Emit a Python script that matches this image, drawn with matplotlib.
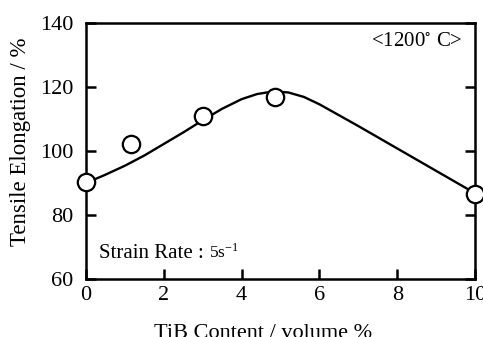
import matplotlib.pyplot as plt

plt.rcParams["font.family"] = ["Liberation Serif", "DejaVu Serif"]
plt.rcParams["mathtext.fontset"] = "stix"

# measured points
tib = [0, 1.15, 3.0, 4.85, 10]
elong = [90.2, 102.3, 111.0, 116.9, 86.6]

# hand-read trend curve
curve_x = [0, 0.5, 1, 1.5, 2, 2.5, 3, 3.5, 4, 4.4, 4.8, 5.2, 5.6, 6, 6.5, 7, 8, 9, 10]
curve_y = [90, 92.6, 95.4, 98.6, 102.2, 105.8, 109.6, 113.2, 116.2, 117.8, 118.6, 118.3, 116.9, 114.6, 111.2, 107.8, 100.8, 93.8, 86.8]

xticks = [0, 2, 4, 6, 8, 10]
yticks = [60, 80, 100, 120, 140]

fig = plt.figure(figsize=(4.83, 3.37), dpi=100)
ax = fig.add_axes([86 / 483, 1 - 279 / 337, (475 - 86) / 483, (279 - 23) / 337])

ax.plot(curve_x, curve_y, color="black", lw=1.7, zorder=2)
ax.plot(tib, elong, linestyle="none", marker="o", ms=12.5, mfc="white",
        mec="black", mew=1.6, zorder=3, clip_on=False)

ax.set_xlim(0, 10)
ax.set_ylim(60, 140)
ax.set_xticks(xticks)
ax.set_yticks(yticks)
ax.tick_params(direction="in", length=7, width=1.8, labelsize=16,
               right=True, top=False)
ax.tick_params(axis="y", pad=9)
ax.tick_params(axis="x", pad=5)
for s in ax.spines.values():
    s.set_linewidth(1.8)

fig.text(21 / 483, 1 - 142 / 337, "Tensile Elongation / %", fontsize=16.5,
         rotation=90, ha="center", va="center")
fig.text(263 / 483, 1 - 333 / 337, "TiB Content / volume %", fontsize=16,
         ha="center", va="center")

fig.text(463 / 483, 1 - 42 / 337, "<1200$^{\\circ}$ C>",
         ha="right", va="center", fontsize=15)
fig.text(99 / 483, 1 - 258 / 337, "Strain Rate :",
         ha="left", va="baseline", fontsize=15)
fig.text(209 / 483, 1 - 258 / 337, "5s$^{\\mathregular{-1}}$",
         ha="left", va="baseline", fontsize=12.5)

fig.savefig("out.png", dpi=100)
